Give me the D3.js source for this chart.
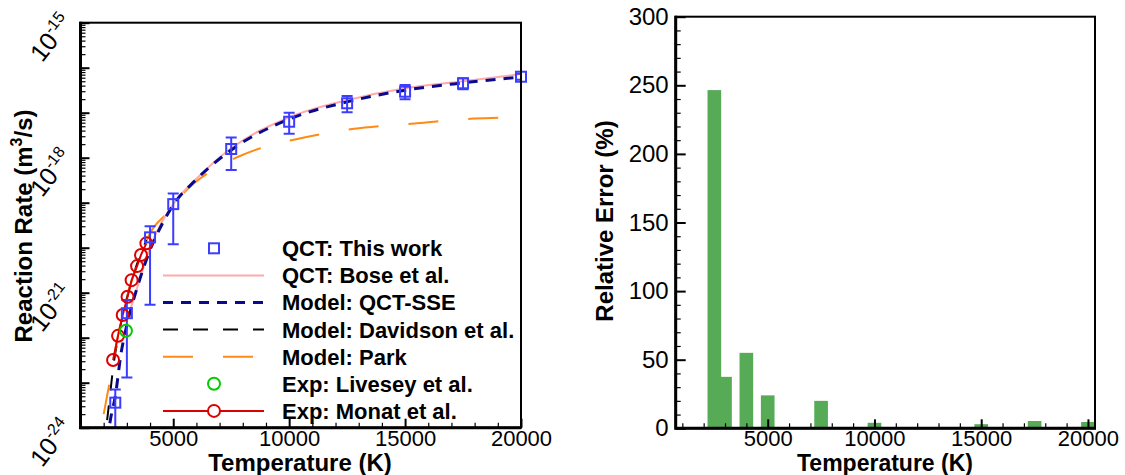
<!DOCTYPE html>
<html><head><meta charset="utf-8">
<script src="https://cdn.jsdelivr.net/npm/d3@7"></script>
<style>
body{margin:0;background:#fff}
svg{display:block}
text{font-family:"Liberation Sans",Arial,Helvetica,sans-serif;fill:#000}
</style>
</head><body>
<svg id="chart" width="1125" height="475"></svg>
<script>
// ---- Rate coefficients (m^3/s) versus temperature (K) ----
// QCT: this work, with uncertainty bounds
const qctT  = [2500, 3000, 4000, 5000, 7500, 10000, 12500, 15000, 17500, 20000];
const qctK  = [3.6e-24, 3.5e-22, 1.7e-20, 9.3e-20, 1.56e-18, 6.3e-18, 1.62e-17, 2.93e-17, 4.5e-17, 6.3e-17];
const qctLo = [1.0e-25, 1.3e-23, 5.4e-22, 1.2e-20, 5.3e-19, 3.4e-18, 1.02e-17, 2.0e-17, 3.3e-17, 5.4e-17];
const qctHi = [7.1e-24, 6.9e-22, 3.0e-20, 1.6e-19, 2.8e-18, 1.0e-17, 2.35e-17, 4.1e-17, 5.8e-17, 7.3e-17];

// QCT: Bose et al.
const boseT = [3000, 3500, 4000, 5000, 6000, 7500, 10000, 12500, 15000, 17500, 20000];
const boseK = [2.4e-22, 1.6e-21, 1.0e-20, 9.3e-20, 3.4e-19, 1.62e-18, 7.9e-18, 1.9e-17, 3.5e-17, 5.0e-17, 7.2e-17];

// Model: QCT-SSE
const sseT = [2150, 2300, 2500, 2750, 3000, 3500, 4000, 4500, 5000, 6000, 7500, 10000, 12500, 15000, 17500, 20000];
const sseK = [5.0e-25, 1.6e-24, 5.0e-24, 4.5e-23, 1.9e-22, 1.6e-21, 8.9e-21, 3.2e-20, 8.9e-20, 3.3e-19, 1.48e-18, 7.2e-18, 1.74e-17, 3.16e-17, 4.6e-17, 6.2e-17];

// Model: Davidson et al.
const davT = [2000, 2100, 2200, 2300, 2400, 2600, 2800, 3000, 3200, 3400, 3600, 3850];
const davK = [3.2e-25, 8.9e-25, 2.5e-24, 7.1e-24, 2.0e-23, 8.9e-23, 2.8e-22, 7.6e-22, 1.8e-21, 3.8e-21, 7.4e-21, 1.5e-20];

// Model: Park
const parkT = [2000, 2260, 2600, 3000, 3500, 4000, 4740, 5650, 6590, 7800, 8950, 10300, 11450, 12800, 14000, 15400, 16600, 17950, 19200, 20000];
const parkK = [2.0e-24, 1.05e-23, 1.02e-22, 7.8e-22, 5.1e-21, 2.1e-20, 5.9e-20, 2.1e-19, 4.9e-19, 1.05e-18, 1.74e-18, 2.57e-18, 3.4e-18, 4.4e-18, 5.1e-18, 5.75e-18, 6.6e-18, 7.4e-18, 7.8e-18, 7.9e-18];

// Experiments
const liveseyT = [2960];
const liveseyK = [1.43e-22];
const monatT = [2405, 2620, 2820, 3030, 3205, 3440, 3610, 3840];
const monatK = [3.2e-23, 1.1e-22, 3.2e-22, 8.1e-22, 1.9e-21, 3.9e-21, 6.9e-21, 1.25e-20];

// ---- Relative error of the QCT-SSE model (%) ----
const errT   = [2500, 3000, 4000, 5000, 7500, 10000, 15000, 17500, 20000];
const errPct = [246.5, 37.5, 55, 24, 20, 4, 3, 5.3, 4.6];

// Axis ticks and labels
const leftXLabels  = [5000, 10000, 15000, 20000];
const leftYDecades = [-24, -23, -22, -21, -20, -19, -18, -17, -16, -15];
const leftYLabels  = [-24, -21, -18, -15];
const rightYLabels = [0, 50, 100, 150, 200, 250, 300];

const legendLabels = ["QCT: This work", "QCT: Bose et al.", "Model: QCT-SSE",
  "Model: Davidson et al.", "Model: Park", "Exp: Livesey et al.", "Exp: Monat et al."];

const C = {
  qct: "#3d3dff", bose: "#ffaaaa", sse: "#0a0a8c", dav: "#000000",
  park: "#ff8a14", livesey: "#00cc00", monat: "#dd0000", bar: "#57ab57"
};
const FONT = "Liberation Sans, Arial, sans-serif";

const svg = d3.select("#chart");

// ================= Left panel =================
const L = {x0: 80.5, x1: 521, y0: 22.7, y1: 427.7};
const xL = d3.scaleLinear().domain([1000, 20000]).range([L.x0, L.x1]);
const yL = d3.scaleLog().domain([1e-24, 1e-15]).range([L.y1, L.y0]);

svg.append("clipPath").attr("id", "clipL").append("rect")
  .attr("x", L.x0).attr("y", L.y0).attr("width", L.x1 - L.x0).attr("height", L.y1 - L.y0);

const gL = svg.append("g");
const plotL = gL.append("g").attr("clip-path", "url(#clipL)");

const zip = (T, K) => T.map((t, i) => ({t, k: K[i]}));
const line = d3.line().x(d => xL(d.t)).y(d => yL(d.k)).curve(d3.curveMonotoneX);

function curve(T, K, color, width, dash) {
  plotL.append("path").datum(zip(T, K))
    .attr("d", line).attr("fill", "none")
    .attr("stroke", color).attr("stroke-width", width)
    .attr("stroke-dasharray", dash || null);
}
curve(davT, davK, C.dav, 2, "15,15");
curve(parkT, parkK, C.park, 2, "30,30");
curve(boseT, boseK, C.bose, 2, null);
curve(sseT, sseK, C.sse, 3, "10,8");

// Monat et al.: connected circles
plotL.append("path").datum(zip(monatT, monatK))
  .attr("d", d3.line().x(d => xL(d.t)).y(d => yL(d.k)))
  .attr("fill", "none").attr("stroke", C.monat).attr("stroke-width", 2);
gL.selectAll(".monat").data(zip(monatT, monatK)).join("circle")
  .attr("cx", d => xL(d.t)).attr("cy", d => yL(d.k)).attr("r", 6)
  .attr("fill", "none").attr("stroke", C.monat).attr("stroke-width", 2);

// Livesey et al.
gL.selectAll(".livesey").data(zip(liveseyT, liveseyK)).join("circle")
  .attr("cx", d => xL(d.t)).attr("cy", d => yL(d.k)).attr("r", 6)
  .attr("fill", "none").attr("stroke", C.livesey).attr("stroke-width", 2);

// QCT points with error bars
const qct = qctT.map((t, i) => ({t, k: qctK[i], lo: qctLo[i], hi: qctHi[i]}));
const eb = plotL.append("g").attr("stroke", C.qct).attr("stroke-width", 2).attr("fill", "none");
qct.forEach(d => {
  const x = xL(d.t);
  eb.append("line").attr("x1", x).attr("x2", x).attr("y1", yL(d.lo)).attr("y2", yL(d.hi));
  eb.append("line").attr("x1", x - 5.5).attr("x2", x + 5.5).attr("y1", yL(d.lo)).attr("y2", yL(d.lo));
  eb.append("line").attr("x1", x - 5.5).attr("x2", x + 5.5).attr("y1", yL(d.hi)).attr("y2", yL(d.hi));
});
gL.selectAll(".qsq").data(qct).join("rect")
  .attr("x", d => xL(d.t) - 5).attr("y", d => yL(d.k) - 5)
  .attr("width", 10).attr("height", 10)
  .attr("fill", "none").attr("stroke", C.qct).attr("stroke-width", 2);

// Left axes: ticks point inward
const minorDec = [];
leftYDecades.slice(0, -1).forEach(e => { for (let m = 2; m <= 9; m++) minorDec.push(m * Math.pow(10, e)); });
gL.append("g").attr("transform", `translate(${L.x0},0)`)
  .call(d3.axisLeft(yL).tickValues(leftYDecades.map(e => Math.pow(10, e))).tickSize(-9).tickFormat(""))
  .call(g => g.select(".domain").remove())
  .call(g => g.selectAll("line").attr("stroke-width", 2));
gL.append("g").attr("transform", `translate(${L.x0},0)`)
  .call(d3.axisLeft(yL).tickValues(minorDec).tickSize(-5).tickFormat(""))
  .call(g => g.select(".domain").remove())
  .call(g => g.selectAll("line").attr("stroke-width", 1.2));

const minorXL = d3.range(2000, 20000, 1000).filter(v => v % 5000 !== 0);
gL.append("g").attr("transform", `translate(0,${L.y1})`)
  .call(d3.axisBottom(xL).tickValues(minorXL).tickSize(-5).tickFormat(""))
  .call(g => g.select(".domain").remove())
  .call(g => g.selectAll("line").attr("stroke-width", 1.2));
gL.append("g").attr("transform", `translate(0,${L.y1})`)
  .call(d3.axisBottom(xL).tickValues(leftXLabels).tickSize(-9).tickPadding(3).tickFormat(d3.format("d")))
  .call(g => g.select(".domain").remove())
  .call(g => g.selectAll("line").attr("stroke-width", 2))
  .call(g => g.selectAll("text").attr("font-size", 22).attr("font-family", FONT));

// Rotated power-of-ten labels
leftYLabels.forEach(e => {
  const t = gL.append("text")
    .attr("transform", `translate(51,${yL(Math.pow(10, e)) + 15}) rotate(-52)`)
    .attr("text-anchor", "middle").attr("dy", "0.35em").attr("font-size", 25);
  t.append("tspan").text("10");
  t.append("tspan").attr("font-size", 16).attr("dy", -10).text(String(e));
});

// Frame
gL.append("rect").attr("x", L.x0).attr("y", L.y0).attr("width", L.x1 - L.x0).attr("height", L.y1 - L.y0)
  .attr("fill", "none").attr("stroke", "#000").attr("stroke-width", 2);
gL.append("path").attr("d", `M${L.x0},${L.y0 - 1}V${L.y1}H${L.x1}`)
  .attr("fill", "none").attr("stroke", "#000").attr("stroke-width", 3);

// Titles
gL.append("text").attr("x", 300).attr("y", 471).attr("text-anchor", "middle")
  .attr("font-size", 24).attr("font-weight", "bold").text("Temperature (K)");
const yt = gL.append("text").attr("transform", "translate(32,226) rotate(-90)")
  .attr("text-anchor", "middle").attr("font-size", 24).attr("font-weight", "bold");
yt.append("tspan").text("Reaction Rate (m");
yt.append("tspan").attr("font-size", 16).attr("dy", -10).text("3");
yt.append("tspan").attr("dy", 10).text("/s)");

// Legend
const lg = gL.append("g");
const rowY = i => 248.3 + i * 27.1;
const lx0 = 163, lx1 = 264, lxm = 214;
lg.append("rect").attr("x", lxm - 5).attr("y", rowY(0) - 5).attr("width", 10).attr("height", 10)
  .attr("fill", "none").attr("stroke", C.qct).attr("stroke-width", 2);
[[1, C.bose, 2, null], [2, C.sse, 3, "10,8"], [3, C.dav, 2, "15,15"], [4, C.park, 2, "30,30"], [6, C.monat, 2, null]]
  .forEach(([i, c, w, d]) => lg.append("line").attr("x1", lx0).attr("x2", lx1)
    .attr("y1", rowY(i)).attr("y2", rowY(i)).attr("stroke", c).attr("stroke-width", w)
    .attr("stroke-dasharray", d));
lg.append("circle").attr("cx", lxm).attr("cy", rowY(5)).attr("r", 6)
  .attr("fill", "#fff").attr("stroke", C.livesey).attr("stroke-width", 2);
lg.append("circle").attr("cx", lxm).attr("cy", rowY(6)).attr("r", 6)
  .attr("fill", "#fff").attr("stroke", C.monat).attr("stroke-width", 2);
legendLabels.forEach((s, i) => lg.append("text").attr("x", 282).attr("y", rowY(i)).attr("dy", "0.36em")
  .attr("font-size", 22).attr("font-weight", "bold").text(s));

// ================= Right panel =================
const R = {x0: 675.7, x1: 1095, y0: 16.7, y1: 428.3};
const xR = d3.scaleLinear().domain([690, 20330]).range([R.x0, R.x1]);
const yR = d3.scaleLinear().domain([0, 300]).range([R.y1, R.y0]);
const gR = svg.append("g");
const halfW = 320;

gR.selectAll(".bar").data(errT.map((t, i) => ({t, v: errPct[i]}))).join("rect")
  .attr("x", d => xR(d.t - halfW)).attr("width", d => xR(d.t + halfW) - xR(d.t - halfW))
  .attr("y", d => yR(d.v)).attr("height", d => yR(0) - yR(d.v))
  .attr("fill", C.bar);

const minorYR = d3.range(10, 300, 10).filter(v => v % 50 !== 0);
gR.append("g").attr("transform", `translate(${R.x0},0)`)
  .call(d3.axisLeft(yR).tickValues(minorYR).tickSize(-5).tickFormat(""))
  .call(g => g.select(".domain").remove())
  .call(g => g.selectAll("line").attr("stroke-width", 1.2));
gR.append("g").attr("transform", `translate(${R.x0},0)`)
  .call(d3.axisLeft(yR).tickValues(rightYLabels).tickSize(-10).tickPadding(7))
  .call(g => g.select(".domain").remove())
  .call(g => g.selectAll("line").attr("stroke-width", 2))
  .call(g => g.selectAll("text").attr("font-size", 24).attr("font-family", FONT));

const minorXR = d3.range(1000, 20001, 1000).filter(v => v % 5000 !== 0);
gR.append("g").attr("transform", `translate(0,${R.y1})`)
  .call(d3.axisBottom(xR).tickValues(minorXR).tickSize(-5).tickFormat(""))
  .call(g => g.select(".domain").remove())
  .call(g => g.selectAll("line").attr("stroke-width", 1.2));
gR.append("g").attr("transform", `translate(0,${R.y1})`)
  .call(d3.axisBottom(xR).tickValues(leftXLabels).tickSize(-9).tickPadding(2).tickFormat(d3.format("d")))
  .call(g => g.select(".domain").remove())
  .call(g => g.selectAll("line").attr("stroke-width", 2))
  .call(g => g.selectAll("text").attr("font-size", 22).attr("font-family", FONT));

gR.append("rect").attr("x", R.x0).attr("y", R.y0).attr("width", R.x1 - R.x0).attr("height", R.y1 - R.y0)
  .attr("fill", "none").attr("stroke", "#000").attr("stroke-width", 2);
gR.append("path").attr("d", `M${R.x0},${R.y0 - 1}V${R.y1}H${R.x1 + 1}`)
  .attr("fill", "none").attr("stroke", "#000").attr("stroke-width", 3);

gR.append("text").attr("x", 885).attr("y", 471).attr("text-anchor", "middle")
  .attr("font-size", 23).attr("font-weight", "bold").text("Temperature (K)");
gR.append("text").attr("transform", "translate(613,221) rotate(-90)")
  .attr("text-anchor", "middle").attr("font-size", 24).attr("font-weight", "bold").text("Relative Error (%)");
</script>
</body></html>
